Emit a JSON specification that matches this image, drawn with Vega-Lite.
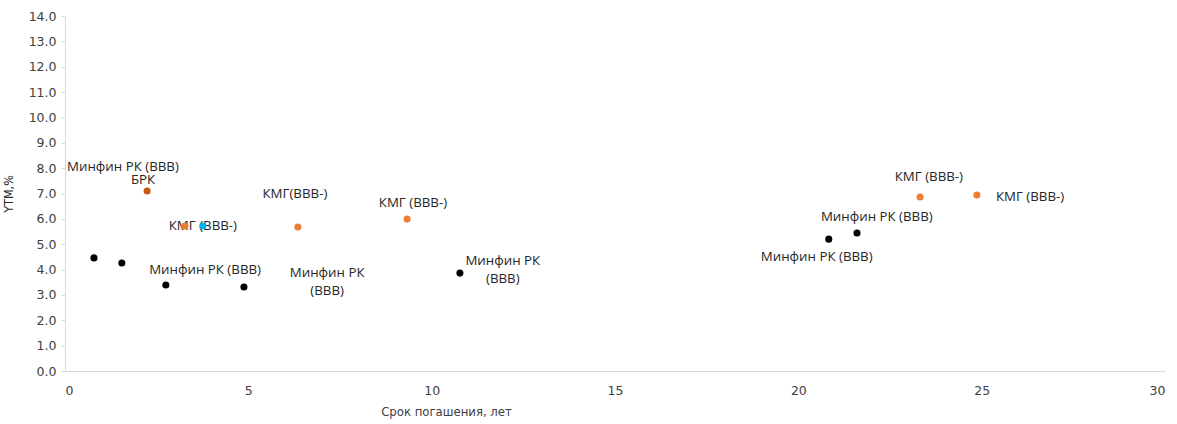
{
  "$schema": "https://vega.github.io/schema/vega-lite/v6.json",
  "width": 1100,
  "height": 355,
  "autosize": {"type": "none"},
  "padding": {"left": 65, "top": 16, "right": 12, "bottom": 53},
  "background": "white",
  "config": {"view": {"stroke": null}},
  "resolve": {"axis": {"x": "independent", "y": "independent"}},
  "datasets": {
    "points": [
      {"maturity": 0.79, "ytm": 4.46, "group": "Минфин РК"},
      {"maturity": 1.55, "ytm": 4.26, "group": "Минфин РК"},
      {"maturity": 2.75, "ytm": 3.39, "group": "Минфин РК"},
      {"maturity": 4.88, "ytm": 3.31, "group": "Минфин РК"},
      {"maturity": 10.77, "ytm": 3.86, "group": "Минфин РК"},
      {"maturity": 20.83, "ytm": 5.2, "group": "Минфин РК"},
      {"maturity": 21.6, "ytm": 5.44, "group": "Минфин РК"},
      {"maturity": 2.24, "ytm": 7.1, "group": "БРК"},
      {"maturity": 3.27, "ytm": 5.72, "group": "КМГ"},
      {"maturity": 3.76, "ytm": 5.72, "group": "Прочие"},
      {"maturity": 6.35, "ytm": 5.68, "group": "КМГ"},
      {"maturity": 9.33, "ytm": 5.99, "group": "КМГ"},
      {"maturity": 23.32, "ytm": 6.86, "group": "КМГ"},
      {"maturity": 24.87, "ytm": 6.94, "group": "КМГ"}
    ],
    "labels": [
      {"lx": 1.58, "ly": 8.06, "label": "Минфин РК (ВВВ)"},
      {"lx": 2.13, "ly": 7.55, "label": "БРК"},
      {"lx": 3.76, "ly": 5.72, "label": "КМГ (ВВВ-)"},
      {"lx": 3.82, "ly": 3.98, "label": "Минфин РК (ВВВ)"},
      {"lx": 6.27, "ly": 6.98, "label": "КМГ(ВВВ-)"},
      {"lx": 7.15, "ly": 3.86, "label": "Минфин РК"},
      {"lx": 7.15, "ly": 3.15, "label": "(ВВВ)"},
      {"lx": 9.49, "ly": 6.62, "label": "КМГ (ВВВ-)"},
      {"lx": 11.94, "ly": 4.34, "label": "Минфин РК"},
      {"lx": 11.94, "ly": 3.63, "label": "(ВВВ)"},
      {"lx": 23.56, "ly": 7.65, "label": "КМГ (ВВВ-)"},
      {"lx": 26.32, "ly": 6.86, "label": "КМГ (ВВВ-)"},
      {"lx": 22.14, "ly": 6.07, "label": "Минфин РК (ВВВ)"},
      {"lx": 20.5, "ly": 4.5, "label": "Минфин РК (ВВВ)"}
    ]
  },
  "layer": [
    {
      "data": {"name": "labels"},
      "mark": {"type": "text", "font": "Open Sans", "fontSize": 13.3, "color": "#262626", "align": "center", "baseline": "middle"},
      "encoding": {
        "x": {"field": "lx", "type": "quantitative", "scale": {"domain": [0, 30], "nice": false}, "axis": null},
        "y": {"field": "ly", "type": "quantitative", "scale": {"domain": [0, 14], "nice": false}, "axis": null},
        "text": {"field": "label"}
      }
    },
    {
      "data": {"name": "points"},
      "mark": {"type": "circle", "opacity": 1},
      "encoding": {
        "x": {
          "field": "maturity", "type": "quantitative",
          "scale": {"domain": [0, 30], "nice": false},
          "axis": {
            "title": "Срок погашения,  лет",
            "values": [0, 5, 10, 15, 20, 25, 30],
            "grid": false, "ticks": false,
            "domainColor": "#d9d9d9",
            "labelFont": "DejaVu Sans", "labelFontSize": 12.5, "labelColor": "#404040",
            "labelPadding": 13, "labelOverlap": false,
            "titleFont": "DejaVu Sans Condensed", "titleFontSize": 13, "titleFontWeight": "normal", "titleColor": "#404040",
            "titleX": 381, "titleY": 40, "titleAlign": "center", "titleBaseline": "middle"
          }
        },
        "y": {
          "field": "ytm", "type": "quantitative",
          "scale": {"domain": [0, 14], "nice": false},
          "axis": {
            "title": "YTM,%",
            "values": [0,1,2,3,4,5,6,7,8,9,10,11,12,13,14],
            "format": ".1f",
            "grid": false, "tickSize": 4, "tickColor": "#d9d9d9",
            "domainColor": "#d9d9d9",
            "labelFont": "DejaVu Sans", "labelFontSize": 12.5, "labelColor": "#404040",
            "labelPadding": 5, "labelOverlap": false,
            "titleFont": "DejaVu Sans Condensed", "titleFontSize": 12.5, "titleFontWeight": "normal", "titleColor": "#262626",
            "titleX": -50, "titleAlign": "center"
          }
        },
        "color": {
          "field": "group", "type": "nominal", "legend": null,
          "scale": {"domain": ["Минфин РК", "КМГ", "БРК", "Прочие"], "range": ["#000000", "#ED7D31", "#C55A11", "#00B0F0"]}
        },
        "size": {
          "field": "group", "type": "nominal", "legend": null,
          "scale": {"domain": ["Минфин РК", "КМГ", "БРК", "Прочие"], "range": [50, 50, 100, 50]}
        }
      }
    }
  ]
}
